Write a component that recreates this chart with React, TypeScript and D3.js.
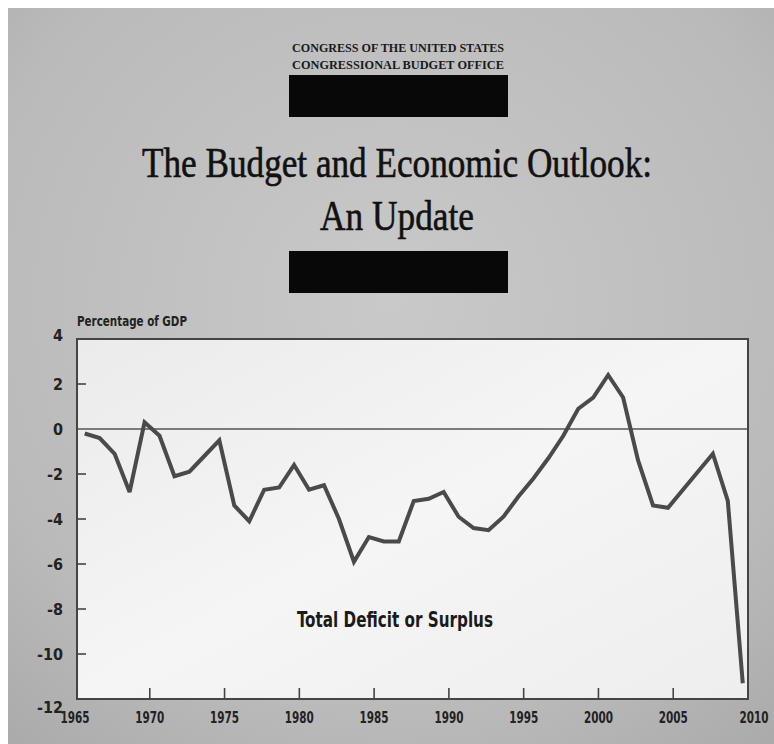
import React from "react";
import * as d3 from "d3";

const years = [
  1965, 1966, 1967, 1968, 1969, 1970, 1971, 1972, 1973, 1974,
  1975, 1976, 1977, 1978, 1979, 1980, 1981, 1982, 1983, 1984,
  1985, 1986, 1987, 1988, 1989, 1990, 1991, 1992, 1993, 1994,
  1995, 1996, 1997, 1998, 1999, 2000, 2001, 2002, 2003, 2004,
  2005, 2006, 2007, 2008, 2009,
];
const deficit = [
  -0.2, -0.4, -1.1, -2.8, 0.3, -0.3, -2.1, -1.9, -1.2, -0.5,
  -3.4, -4.1, -2.7, -2.6, -1.6, -2.7, -2.5, -4.0, -5.9, -4.8,
  -5.0, -5.0, -3.2, -3.1, -2.8, -3.9, -4.4, -4.5, -3.9, -3.0,
  -2.2, -1.3, -0.3, 0.9, 1.4, 2.4, 1.4, -1.4, -3.4, -3.5,
  -2.7, -1.9, -1.1, -3.2, -11.3,
];
const xTicks = [1965, 1970, 1975, 1980, 1985, 1990, 1995, 2000, 2005, 2010];
const yTicks = [4, 2, 0, -2, -4, -6, -8, -10, -12];

const headerLines = ["CONGRESS OF THE UNITED STATES", "CONGRESSIONAL BUDGET OFFICE"];
const titleLines = ["The Budget and Economic Outlook:", "An Update"];
const yAxisTitle = "Percentage of GDP";
const seriesLabel = "Total Deficit or Surplus";

const W = 766;
const H = 736;
// plot frame in svg coords (svg sits at 8,8 of the page)
const left = 69, right = 740, top = 331, bottom = 691;
const POINT_OFFSET = 0.65; // fiscal-year points sit slightly right of the tick

const sansCond = "'Liberation Sans Narrow', 'DejaVu Sans Condensed', 'Roboto', sans-serif";
const serif = "'Liberation Serif', 'DejaVu Serif', serif";

export default function App() {
  const x = d3.scaleLinear().domain([1965, 2010]).range([left - 2, right]);
  const y = d3.scaleLinear().domain([-12, 4]).range([bottom, top]);
  const data = years.map((yr, i) => ({ yr, v: deficit[i] }));
  const line = d3
    .line<{ yr: number; v: number }>()
    .x((d) => x(d.yr + POINT_OFFSET))
    .y((d) => y(d.v));

  return (
    <svg
      width={W}
      height={H}
      style={{ display: "block", position: "absolute", left: 8, top: 8 }}
    >
      <defs>
        <radialGradient id="bg" cx="50%" cy="40%" r="80%">
          <stop offset="0%" stopColor="#c9c9c9" />
          <stop offset="70%" stopColor="#bababa" />
          <stop offset="100%" stopColor="#a9a9a9" />
        </radialGradient>
        <linearGradient id="plotbg" x1="0" y1="0" x2="1" y2="1">
          <stop offset="0%" stopColor="#ebebeb" />
          <stop offset="50%" stopColor="#f5f5f5" />
          <stop offset="100%" stopColor="#eeeeee" />
        </linearGradient>
      </defs>
      <rect x={0} y={0} width={W} height={H} fill="url(#bg)" />

      {/* header */}
      {headerLines.map((t, i) => (
        <text
          key={t}
          x={390}
          y={44 + i * 17}
          textAnchor="middle"
          fontFamily={serif}
          fontWeight="bold"
          fontSize={12.5}
          textLength={212}
          lengthAdjust="spacingAndGlyphs"
          fill="#1a1a1a"
        >
          {t}
        </text>
      ))}
      <rect x={281} y={67} width={219} height={42} fill="#080808" />

      {titleLines.map((t, i) => (
        <text
          key={t}
          x={389}
          y={169 + i * 53}
          textAnchor="middle"
          fontFamily={serif}
          fontSize={42}
          textLength={i === 0 ? 510 : 154}
          lengthAdjust="spacingAndGlyphs"
          fill="#111"
          stroke="#111"
          strokeWidth={0.6}
        >
          {t}
        </text>
      ))}
      <rect x={281} y={243} width={219} height={42} fill="#080808" />

      {/* plot area */}
      <rect x={left} y={top} width={right - left} height={bottom - top} fill="url(#plotbg)" />

      {/* zero line */}
      <line x1={left} x2={right} y1={y(0)} y2={y(0)} stroke="#555" strokeWidth={1.6} />

      {/* y ticks */}
      {yTicks.map((t) => (
        <g key={t}>
          {t !== 4 && t !== 0 && t !== -12 && (
            <line x1={left} x2={left + 9} y1={y(t)} y2={y(t)} stroke="#444" strokeWidth={1.6} />
          )}
          <text
            x={55}
            y={y(t) + (t === 4 ? -4 : t === -12 ? 8 : 0)}
            dy="0.35em"
            textAnchor="end"
            fontFamily={sansCond}
            fontWeight="bold"
            fontSize={16}
            fill="#222"
          >
            {t}
          </text>
        </g>
      ))}

      {/* x ticks */}
      {xTicks.map((t) => (
        <g key={t}>
          {t !== 1965 && t !== 2010 && (
            <line x1={x(t)} x2={x(t)} y1={bottom} y2={bottom - 11} stroke="#444" strokeWidth={1.6} />
          )}
          <text
            x={x(t) + (t === 2010 ? 6 : 0)}
            y={715}
            textAnchor="middle"
            fontFamily={sansCond}
            fontWeight="bold"
            fontSize={16}
            textLength={29}
            lengthAdjust="spacingAndGlyphs"
            fill="#222"
          >
            {t}
          </text>
        </g>
      ))}

      {/* series */}
      <path d={line(data) ?? ""} fill="none" stroke="#4a4a4a" strokeWidth={4} strokeLinejoin="miter" strokeMiterlimit={3} />

      {/* frame */}
      <rect x={left} y={top} width={right - left} height={bottom - top} fill="none" stroke="#444" strokeWidth={2} />

      {/* axis title */}
      <text
        x={left}
        y={318}
        fontFamily={sansCond}
        fontWeight="bold"
        fontSize={14}
        textLength={110}
        lengthAdjust="spacingAndGlyphs"
        fill="#222"
      >
        {yAxisTitle}
      </text>

      {/* series label */}
      <text
        x={387}
        y={619}
        textAnchor="middle"
        fontFamily={sansCond}
        fontWeight="bold"
        fontSize={21}
        textLength={196}
        lengthAdjust="spacingAndGlyphs"
        fill="#1a1a1a"
      >
        {seriesLabel}
      </text>
    </svg>
  );
}
